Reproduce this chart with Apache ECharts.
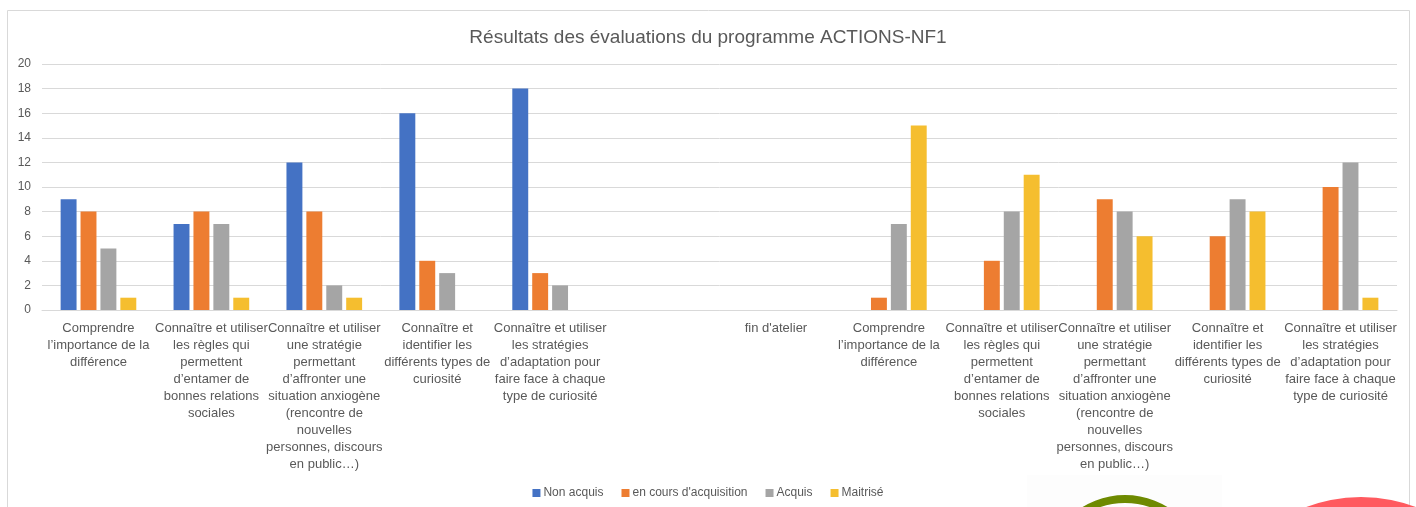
<!DOCTYPE html>
<html>
<head>
<meta charset="utf-8">
<script src="https://cdn.jsdelivr.net/npm/echarts@6/dist/echarts.min.js"></script>
<style>
html,body{margin:0;padding:0;background:#fff;}
#chart{width:1416px;height:507px;}
</style>
</head>
<body>
<div id="chart"></div>
<script>
const title = "Résultats des évaluations du programme ACTIONS-NF1";
const categories = [
  "Comprendre\nl’importance de la\ndifférence",
  "Connaître et utiliser\nles règles qui\npermettent\nd’entamer de\nbonnes relations\nsociales",
  "Connaître et utiliser\nune stratégie\npermettant\nd’affronter une\nsituation anxiogène\n(rencontre de\nnouvelles\npersonnes, discours\nen public…)",
  "Connaître et\nidentifier les\ndifférents types de\ncuriosité",
  "Connaître et utiliser\nles stratégies\nd’adaptation pour\nfaire face à chaque\ntype de curiosité",
  "",
  "fin d'atelier",
  "Comprendre\nl’importance de la\ndifférence",
  "Connaître et utiliser\nles règles qui\npermettent\nd’entamer de\nbonnes relations\nsociales",
  "Connaître et utiliser\nune stratégie\npermettant\nd’affronter une\nsituation anxiogène\n(rencontre de\nnouvelles\npersonnes, discours\nen public…)",
  "Connaître et\nidentifier les\ndifférents types de\ncuriosité",
  "Connaître et utiliser\nles stratégies\nd’adaptation pour\nfaire face à chaque\ntype de curiosité"
];
const seriesNames = ["Non acquis", "en cours d'acquisition", "Acquis", "Maitrisé"];
const nonAcquis   = [9, 7, 12, 16, 18, null, null, 0, 0, 0, 0, 0];
const enCours     = [8, 8, 8, 4, 3, null, null, 1, 4, 9, 6, 10];
const acquis      = [5, 7, 2, 3, 2, null, null, 7, 8, 8, 9, 12];
const maitrise    = [1, 1, 1, 0, 0, null, null, 15, 11, 6, 8, 1];
const yTicks = {min: 0, max: 20, interval: 2};
const colors = ["#4472C4", "#ED7D31", "#A5A5A5", "#F5BE2F"];

const font = "'Liberation Sans', Arial, sans-serif";
const txt = "#595959";
const chart = echarts.init(document.getElementById('chart'), null, {renderer: 'canvas'});
const values = [nonAcquis, enCours, acquis, maitrise];
chart.setOption({
  animation: false,
  color: colors,
  textStyle: {fontFamily: font},
  title: {
    text: title, left: 'center', top: 23,
    textStyle: {fontSize: 19, fontWeight: 'normal', color: txt, fontFamily: font}
  },
  grid: {left: 42, right: 19, top: 64, bottom: 197, containLabel: false},
  legend: {
    data: seriesNames, bottom: 3, left: 'center', icon: 'rect',
    itemWidth: 8, itemHeight: 8, itemGap: 18,
    textStyle: {fontSize: 12, color: txt, fontFamily: font, padding: [0, 0, 0, -2]}
  },
  xAxis: {
    type: 'category', data: categories,
    axisLine: {lineStyle: {color: '#d9d9d9', width: 1}},
    axisTick: {show: false},
    axisLabel: {interval: 0, fontSize: 13, color: txt, lineHeight: 17, margin: 10, fontFamily: font}
  },
  yAxis: {
    type: 'value', min: yTicks.min, max: yTicks.max, interval: yTicks.interval,
    axisLine: {show: false}, axisTick: {show: false},
    axisLabel: {fontSize: 12, color: txt, margin: 11, fontFamily: font},
    splitLine: {lineStyle: {color: '#d9d9d9', width: 1}}
  },
  series: seriesNames.map((n, i) => ({
    name: n, type: 'bar', data: values[i],
    barGap: '25%', barCategoryGap: '33%'
  })),
  graphic: [
    {type: 'rect', silent: true, z: -10,
     shape: {x: 7.5, y: 10.5, width: 1402, height: 520},
     style: {fill: null, stroke: '#d9d9d9', lineWidth: 1}},
    {type: 'rect', silent: true, z: 10,
     shape: {x: 1027, y: 475, width: 195, height: 40},
     style: {fill: '#fdfdfd'}},
    {type: 'circle', silent: true, z: 11,
     shape: {cx: 1125, cy: 576, r: 77},
     style: {fill: null, stroke: '#6E8A00', lineWidth: 8}},
    {type: 'circle', silent: true, z: 11,
     shape: {cx: 1361, cy: 652, r: 155},
     style: {fill: '#FF5A5F'}}
  ]
});
</script>
</body>
</html>
